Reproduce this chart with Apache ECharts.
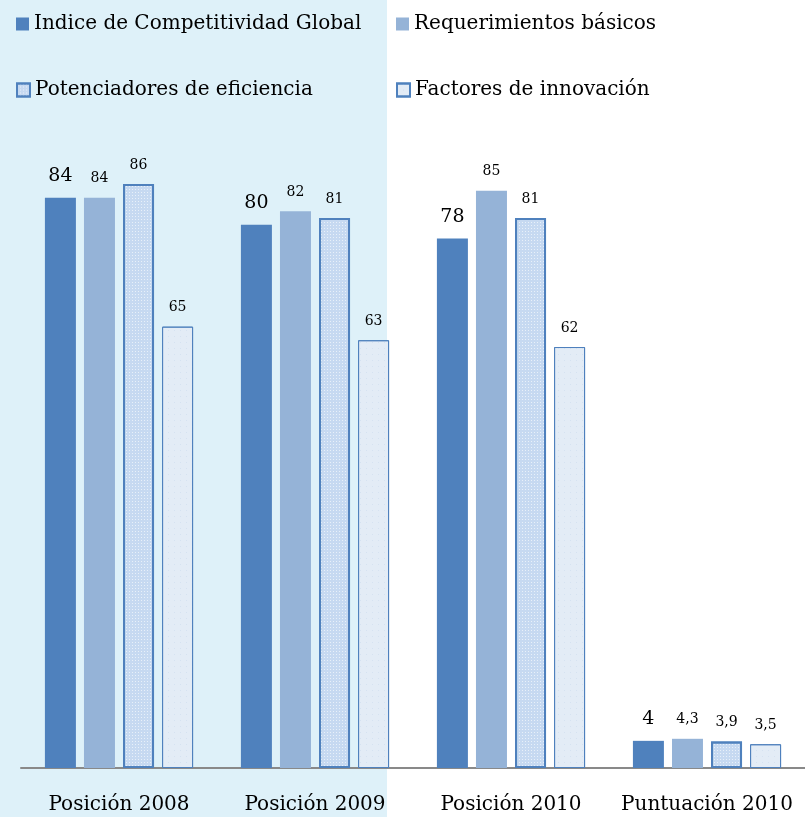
<!DOCTYPE html>
<html><head><meta charset="utf-8">
<script src="https://cdn.jsdelivr.net/npm/echarts@6/dist/echarts.min.js"></script>
<style>html,body{margin:0;padding:0;background:#fff}#c{width:805px;height:817px}</style>
</head><body><div id="c"></div>
<script>
const categories = ['Posición 2008', 'Posición 2009', 'Posición 2010', 'Puntuación 2010'];
const seriesNames = ['Indice de Competitividad Global', 'Requerimientos básicos', 'Potenciadores de eficiencia', 'Factores de innovación'];
const indiceGlobal = [84, 80, 78, 4];
const requerimientos = [84, 82, 85, 4.3];
const potenciadores = [86, 81, 81, 3.9];
const innovacion = [65, 63, 62, 3.5];

const FONT = 'DejaVu Serif';
const fmt = p => String(p.value).replace('.', ',');
const chart = echarts.init(document.getElementById('c'));
const styles = [
  {color: '#4F81BD'},
  {color: '#95B3D7'},
  {color: '#C6D9F1', borderColor: '#4F81BD', borderWidth: 2,
   decal: {symbol: 'rect', color: 'rgba(255,255,255,0.6)', dashArrayX: [[1, 2]], dashArrayY: [1, 2], symbolSize: 1, rotation: 0}},
  {color: '#E3ECF6', borderColor: '#4F81BD', borderWidth: 1,
   decal: {symbol: 'rect', color: 'rgba(200,215,235,0.5)', dashArrayX: [[1, 5]], dashArrayY: [1, 5], symbolSize: 1, rotation: 0}}
];
const vals = [indiceGlobal, requerimientos, potenciadores, innovacion];
const legendPos = [[11, 9], [391, 9], [11, 75], [391, 75]];
chart.setOption({
  animation: false,
  graphic: [{type: 'rect', left: 0, top: 0, z: -10, shape: {width: 387, height: 817}, style: {fill: '#DEF1F9'}}],
  legend: seriesNames.map((n, i) => ({
    data: [n], left: legendPos[i][0], top: legendPos[i][1], icon: 'rect', itemWidth: 13, itemHeight: 13,
    textStyle: {fontFamily: FONT, fontSize: 20, color: '#000'}
  })),
  grid: {left: 21, right: -6, top: 89, bottom: 49},
  xAxis: {
    type: 'category', data: categories,
    axisLine: {lineStyle: {color: '#898989', width: 2}},
    axisTick: {show: false},
    axisLabel: {interval: 0, fontFamily: FONT, fontSize: 20, color: '#000', margin: 27}
  },
  yAxis: {type: 'value', min: 0, max: 100, show: false, splitLine: {show: false}},
  series: seriesNames.map((n, i) => ({
    name: n, type: 'bar', data: vals[i], barWidth: 31, barGap: '26%',
    itemStyle: styles[i],
    label: {show: true, position: 'top', distance: 12, formatter: fmt,
      fontFamily: FONT, fontSize: i === 0 ? 19 : 14, color: '#000'}
  }))
});
</script></body></html>
